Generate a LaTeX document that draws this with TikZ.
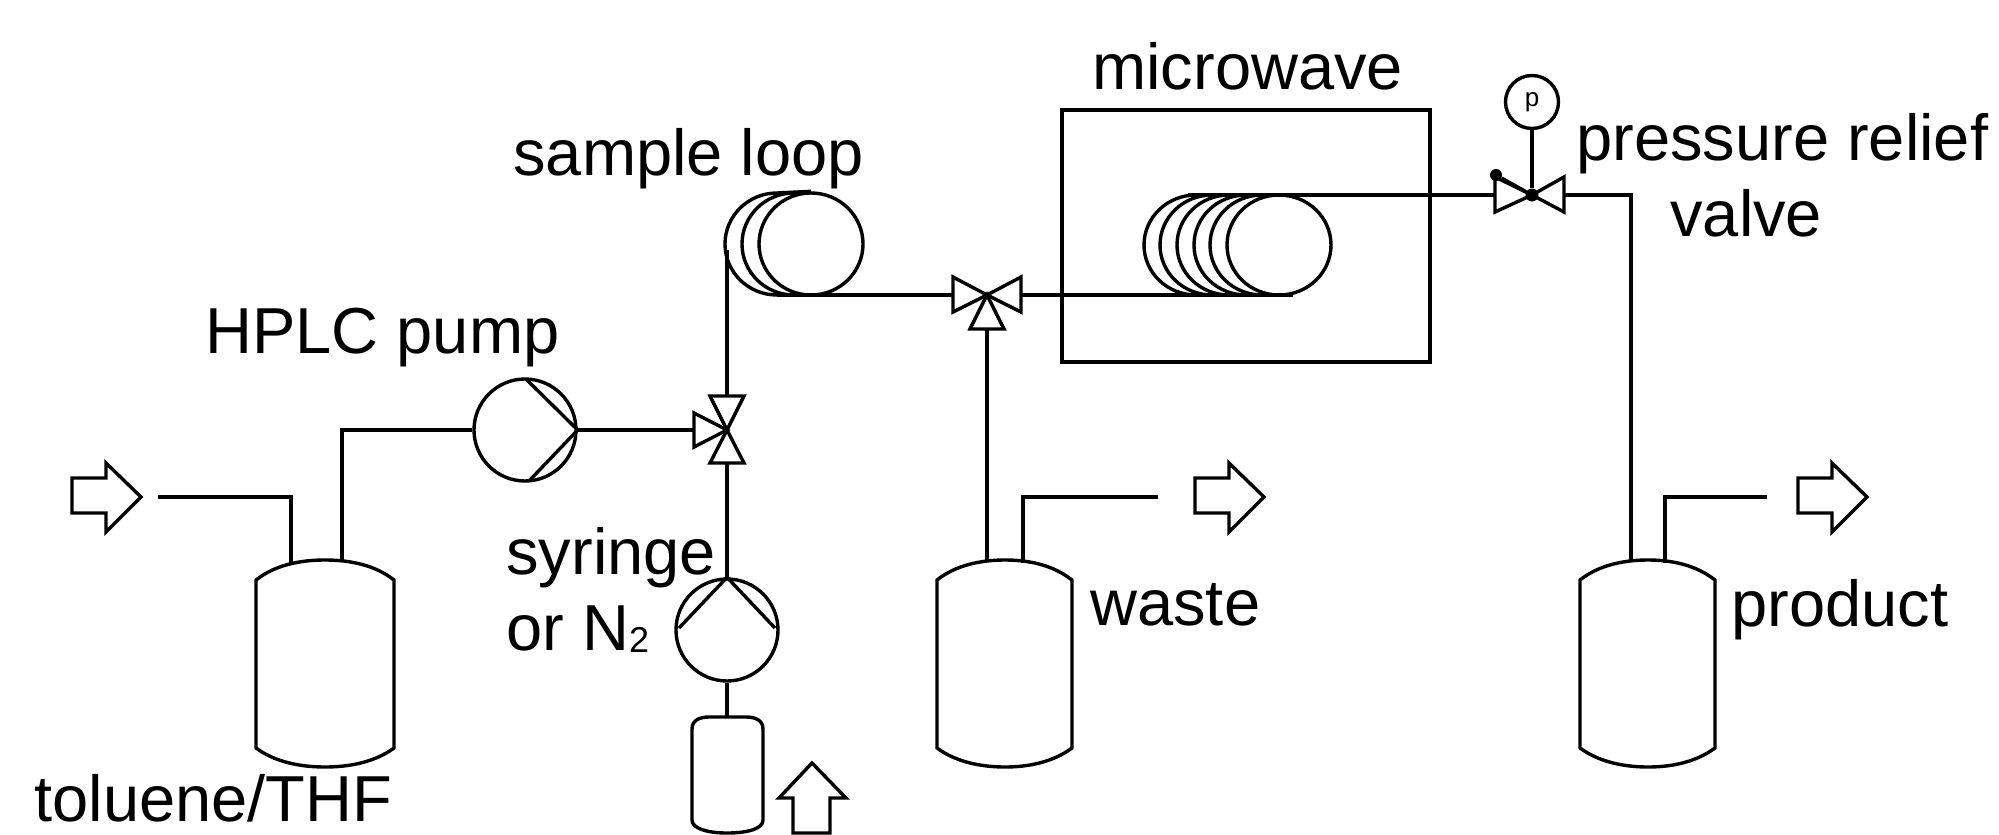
\documentclass[tikz,border=0pt]{standalone}
\usepackage{fontspec}
\setmainfont{Liberation Sans}
\usetikzlibrary{shapes.geometric}
\begin{document}
\begin{tikzpicture}[x=0.5pt,y=0.5pt]
        \tikzset{pipe/.style = {line width=1.7pt,line join=miter},
            pump/.style = {shape=circle,draw,line width=1.7pt,inner sep=0pt,minimum size=51pt},
            knot/.style = {shape=circle,fill=black,inner sep=0pt,minimum size=#1},
            label/.style = {anchor=base west,inner sep=0pt,font=\fontsize{32.5}{36}\selectfont},
            feed/.style = {line width=1.7pt,line join=miter}};
        \useasboundingbox (0,0) rectangle (1999,-835);
        \node[draw,line width=1.7pt,inner sep=0pt,minimum width=184pt,minimum height=126pt] (oven) at (1246,-236) {};
        % valves
        \node[knot=2pt] (inject) at (727,-430) {};
        \coordinate (injectW) at (694,-430);
        \coordinate (injectN) at (727,-396);
        \coordinate (injectS) at (727,-463);
        \draw[pipe] (inject.center) -- (694,-413) -- (694,-447) -- cycle;
        \draw[pipe] (inject.center) -- (710,-396) -- (744,-396) -- cycle;
        \draw[pipe] (inject.center) -- (710,-463) -- (744,-463) -- cycle;
        \node[knot=2pt] (switch) at (987,-295) {};
        \coordinate (switchW) at (953,-295);
        \coordinate (switchE) at (1021,-295);
        \coordinate (switchS) at (987,-329);
        \draw[pipe] (switch.center) -- (953,-277) -- (953,-312) -- cycle;
        \draw[pipe] (switch.center) -- (1021,-277) -- (1021,-312) -- cycle;
        \draw[pipe] (switch.center) -- (970,-329) -- (1004,-329) -- cycle;
        \node[knot=6.5pt] (relief) at (1532,-195) {};
        \coordinate (reliefW) at (1495,-195);
        \coordinate (reliefE) at (1564,-195);
        \draw[pipe] (relief.center) -- (1495,-177) -- (1495,-212) -- cycle;
        \draw[pipe] (relief.center) -- (1564,-177) -- (1564,-212) -- cycle;
        \node[knot=6pt] (ball) at (1496,-175) {};
        \draw[pipe] (ball) -- (relief);
        \node[pump,minimum size=26.5pt,font=\fontsize{13}{13}\selectfont] (gauge) at (1532,-102) {p};
        \draw[pipe] (gauge) -- (relief);
        % pumps
        \node[pump] (hplc) at (525,-430) {};
        \draw[pipe] (526,-379) -- (hplc.east) -- (529,-481);
        \node[pump] (syringe) at (727,-630) {};
        \draw[pipe] (679,-628) -- (syringe.north) -- (775,-628);
        % sample loop
        \node[shape=ellipse,draw,line width=1.7pt,inner sep=0pt,minimum width=52pt,minimum height=51pt] (loop) at (811,-244) {};
        \foreach \x in {777,794}
            \draw[pipe] (\x,-295) arc[start angle=270,end angle=90,x radius=52,y radius=51];
        \coordinate (loopT) at (777,-193);
        \coordinate (loopB) at (777,-295);
        \coordinate (loopL) at (727,-250);
        \draw[pipe] (loopT) -- (loop.north);
        \draw[pipe] (loopB) -- (switchW);
        \draw[pipe] (loopL) -- (injectN);
        % coil in the microwave
        \node[shape=ellipse,draw,line width=1.7pt,inner sep=0pt,minimum width=52pt,minimum height=50pt] (coil) at (1279,-245) {};
        \foreach \x in {1196,1212,1229,1246,1262}
            \draw[pipe] (\x,-295) arc[start angle=270,end angle=90,x radius=52,y radius=50];
        \coordinate (coilT) at (1188,-195);
        \coordinate (coilB) at (1293,-295);
        \draw[pipe] (coilT) -- (reliefW);
        \draw[pipe] (switchE) -- (coilB);
        % vessels
        \draw[pipe] (256,-580) .. controls (275,-565) and (300,-560) .. (325,-560) .. controls (350,-560) and (375,-565) .. (394,-580)
            -- (394,-748) .. controls (375,-762) and (350,-767) .. (325,-767) .. controls (300,-767) and (275,-762) .. (256,-748) -- cycle;
        \coordinate (solventIn) at (291,-564);
        \coordinate (solventOut) at (342,-561);
        \draw[pipe] (937,-580) .. controls (956,-565) and (981,-560) .. (1005,-560) .. controls (1029,-560) and (1053,-565) .. (1072,-580)
            -- (1072,-748) .. controls (1053,-762) and (1029,-767) .. (1005,-767) .. controls (981,-767) and (956,-762) .. (937,-748) -- cycle;
        \coordinate (wasteIn) at (987,-561);
        \coordinate (wasteOut) at (1023,-563);
        \draw[pipe] (1580,-580) .. controls (1599,-565) and (1624,-560) .. (1648,-560) .. controls (1672,-560) and (1696,-565) .. (1715,-580)
            -- (1715,-748) .. controls (1696,-762) and (1672,-767) .. (1648,-767) .. controls (1624,-767) and (1599,-762) .. (1580,-748) -- cycle;
        \coordinate (productIn) at (1631,-561);
        \coordinate (productOut) at (1665,-563);
        \draw[pipe] (692,-729) .. controls (692,-720) and (700,-717) .. (709,-717) -- (746,-717) .. controls (755,-717) and (763,-720) .. (763,-729)
            -- (763,-820) .. controls (763,-828) and (750,-833) .. (727,-833) .. controls (706,-833) and (692,-828) .. (692,-820) -- cycle;
        \coordinate (gasOut) at (727,-717);
        % piping
        \coordinate (solventEnd) at (158,-497);
        \coordinate (wasteEnd) at (1158,-497);
        \coordinate (productEnd) at (1767,-497);
        \draw[pipe] (solventEnd) -| (solventIn);
        \draw[pipe] (solventOut) |- (hplc.west);
        \draw[pipe] (hplc.east) -- (injectW);
        \draw[pipe] (injectS) -- (syringe.north);
        \draw[pipe] (syringe.south) -- (gasOut);
        \draw[pipe] (switchS) -- (wasteIn);
        \draw[pipe] (wasteOut) |- (wasteEnd);
        \draw[pipe] (reliefE) -| (productIn);
        \draw[pipe] (productOut) |- (productEnd);
        % block arrows
        \draw[feed] (72,-478) -- (106,-478) -- (106,-463) -- (141,-497) -- (106,-532) -- (106,-513) -- (72,-513) -- cycle;
        \draw[feed] (1195,-478) -- (1229,-478) -- (1229,-463) -- (1264,-497) -- (1229,-532) -- (1229,-513) -- (1195,-513) -- cycle;
        \draw[feed] (1798,-478) -- (1832,-478) -- (1832,-463) -- (1867,-497) -- (1832,-532) -- (1832,-513) -- (1798,-513) -- cycle;
        \draw[feed] (793,-833) -- (793,-798) -- (779,-798) -- (812,-763) -- (846,-798) -- (830,-798) -- (830,-833) -- cycle;
        % labels
        \node[label] (microwave) at (1092,-89) {microwave};
        \node[label] (sampleloop) at (513,-175) {sample loop};
        \node[label] (hplcpump) at (205,-353) {HPLC pump};
        \node[label] (syringetext) at (506,-574) {syringe};
        \node[label] (ortext) at (506,-650) {or N\raisebox{-1pt}{\fontsize{18}{18}\selectfont 2}};
        \node[label] (solvent) at (34,-821) {toluene/THF};
        \node[label] (waste) at (1090,-625) {waste};
        \node[label] (product) at (1731,-626) {product};
        \node[label] (pressure) at (1576,-160) {pressure relief};
        \node[label] (valve) at (1670,-236) {valve};
    \end{tikzpicture}
\end{document}
